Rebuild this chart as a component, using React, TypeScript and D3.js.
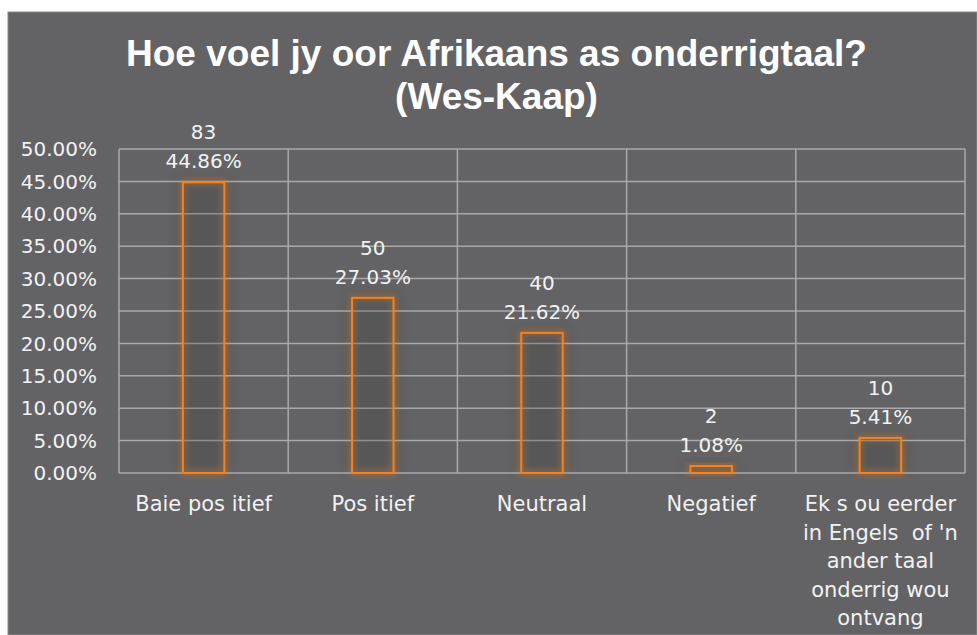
import React from "react";
import * as d3 from "d3";

const categories: string[][] = [
  ["Baie pos itief"],
  ["Pos itief"],
  ["Neutraal"],
  ["Negatief"],
  ["Ek s ou eerder", "in Engels  of 'n", "ander taal", "onderrig wou", "ontvang"],
];
const counts = [83, 50, 40, 2, 10];
const percents = [44.86, 27.03, 21.62, 1.08, 5.41];
const yTicks = [0, 5, 10, 15, 20, 25, 30, 35, 40, 45, 50];
const titleLines = ["Hoe voel jy oor Afrikaans as onderrigtaal?", "(Wes-Kaap)"];

const W = 977;
const H = 635;
const M = { left: 119, right: 965, top: 149, bottom: 473 };
const FONT = "'DejaVu Sans', sans-serif";
const TXT = "#f2f2f2";
const ORANGE = "#f5821f";

export default function App() {
  const x = d3
    .scaleBand<number>()
    .domain(categories.map((_, i) => i))
    .range([M.left, M.right])
    .padding(0);
  const y = d3.scaleLinear().domain([0, 50]).range([M.bottom, M.top]);
  const barW = x.bandwidth() * 0.245;

  return (
    <svg
      width={W}
      height={H}
      style={{ position: "absolute", left: 0, top: 0, display: "block" }}
      fontFamily={FONT}
    >
      <defs>
        <filter id="glow" x="-50%" y="-50%" width="200%" height="200%">
          <feGaussianBlur stdDeviation="3" />
        </filter>
        <filter id="shadow" x="-50%" y="-50%" width="200%" height="200%">
          <feGaussianBlur stdDeviation="6" />
        </filter>
      </defs>
      <rect x={0} y={0} width={W} height={H} fill="#ffffff" />
      <rect x={8} y={12} width={W - 8} height={H - 12} fill="#636365" stroke="#8a8a8c" strokeWidth={1} />

      {/* title */}
      {titleLines.map((t, i) => (
        <text
          key={i}
          x={(127 + 866) / 2}
          y={66 + i * 43}
          textAnchor="middle"
          fill="#ffffff"
          fontWeight="bold"
          fontSize={37}
          fontFamily="'Liberation Sans', Arial, sans-serif"
        >
          {t}
        </text>
      ))}

      {/* bar shadows */}
      {percents.map((p, i) => {
        const cx = x(i)! + x.bandwidth() / 2;
        return (
          <rect
            key={"s" + i}
            x={cx - barW / 2 - 6}
            y={y(p) - 4}
            width={barW + 12}
            height={y(0) - y(p) + 4}
            fill="#000000"
            opacity={0.12}
            filter="url(#shadow)"
          />
        );
      })}

      {/* gridlines */}
      {yTicks.map((t) => (
        <line
          key={"h" + t}
          x1={M.left}
          x2={M.right}
          y1={y(t)}
          y2={y(t)}
          stroke="#a9a9ab"
          strokeWidth={1.5}
        />
      ))}
      {d3.range(categories.length + 1).map((i) => {
        const xx = i < categories.length ? x(i)! : M.right;
        return (
          <line
            key={"v" + i}
            x1={xx}
            x2={xx}
            y1={M.top}
            y2={M.bottom}
            stroke="#a9a9ab"
            strokeWidth={1.5}
          />
        );
      })}

      {/* y labels */}
      {yTicks.map((t) => (
        <text
          key={"yl" + t}
          x={97}
          y={y(t)}
          dy="0.36em"
          textAnchor="end"
          fill={TXT}
          fontSize={20}
        >
          {t.toFixed(2) + "%"}
        </text>
      ))}

      {/* bars */}
      {percents.map((p, i) => {
        const cx = x(i)! + x.bandwidth() / 2;
        const bx = cx - barW / 2;
        const by = y(p);
        const bh = y(0) - y(p);
        return (
          <g key={"b" + i}>
            <rect
              x={bx}
              y={by}
              width={barW}
              height={bh}
              fill="none"
              stroke={ORANGE}
              strokeWidth={6}
              opacity={0.4}
              filter="url(#glow)"
            />
            <rect x={bx} y={by} width={barW} height={bh} fill="#58585a" opacity={0.3} />
            <rect x={bx} y={by} width={barW} height={bh} fill="none" stroke={ORANGE} strokeWidth={2} />
            <text x={cx} y={by - 43} textAnchor="middle" fill={TXT} fontSize={20}>
              {counts[i]}
            </text>
            <text x={cx} y={by - 14} textAnchor="middle" fill={TXT} fontSize={20}>
              {p.toFixed(2) + "%"}
            </text>
          </g>
        );
      })}

      {/* x labels */}
      {categories.map((lines, i) => {
        const cx = x(i)! + x.bandwidth() / 2;
        return (
          <text key={"xl" + i} textAnchor="middle" fill={TXT} fontSize={21}>
            {lines.map((l, j) => (
              <tspan key={j} x={cx} y={511 + j * 28.5} style={{ whiteSpace: "pre" }}>
                {l}
              </tspan>
            ))}
          </text>
        );
      })}
    </svg>
  );
}
